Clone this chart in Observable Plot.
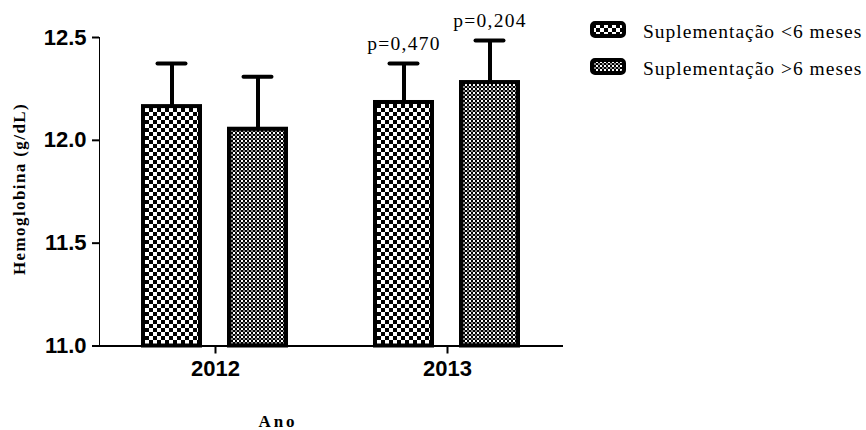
<!DOCTYPE html>
<html><head><meta charset="utf-8">
<script src="https://cdn.jsdelivr.net/npm/d3@7"></script>
<script src="https://cdn.jsdelivr.net/npm/@observablehq/plot@0.6"></script>
<style>
body{margin:0;background:#fff;}
#wrap{position:relative;width:866px;height:430px;}
#overlay{position:absolute;left:0;top:0;}
g[aria-label="y-axis tick label"], g[aria-label="fx-axis tick label"]{font:bold 22px "Liberation Sans",Arial,sans-serif;fill:#000;}
g[aria-label^="y-axis"], g[aria-label^="fx-axis"]{stroke-width:2px;}
g[aria-label="text"]{letter-spacing:1.3px;}
.serif{font-family:"Liberation Serif","Times New Roman",serif;fill:#000;}
</style></head><body>
<svg width="0" height="0" style="position:absolute">
<defs>
<pattern id="pat-lt6" width="8" height="8" patternUnits="userSpaceOnUse">
<rect width="8" height="8" fill="#fff"/><rect width="4" height="4" fill="#000"/><rect x="4" y="4" width="4" height="4" fill="#000"/>
</pattern>
<pattern id="pat-gt6" width="4" height="4" patternUnits="userSpaceOnUse">
<rect width="4" height="4" fill="#000"/><rect width="2" height="2" fill="#fff"/><rect x="2" y="2" width="2" height="2" fill="#888"/>
</pattern>
</defs></svg>
<div id="wrap"></div>
<script>
const years = ["2012", "2013"];
const seriesNames = ["Suplementação <6 meses", "Suplementação >6 meses"];
const meanLt6 = [12.164, 12.184];
const meanGt6 = [12.054, 12.281];
const errLt6 = [0.21, 0.19];
const errGt6 = [0.255, 0.205];
const pLt6 = [null, "p=0,470"];
const pGt6 = [null, "p=0,204"];
const yDomain = [11.0, 12.5];
const yTicks = [11.0, 11.5, 12.0, 12.5];
const yTitle = "Hemoglobina (g/dL)";
const xTitle = "Ano";
const patterns = ["url(#pat-lt6)", "url(#pat-gt6)"];

const rows = [];
years.forEach((yr, i) => {
  rows.push({year: yr, series: seriesNames[0], mean: meanLt6[i], err: errLt6[i], p: pLt6[i]});
  rows.push({year: yr, series: seriesNames[1], mean: meanGt6[i], err: errGt6[i], p: pGt6[i]});
});

const chart = Plot.plot({
  width: 866, height: 430,
  marginLeft: 98, marginRight: 303, marginTop: 37, marginBottom: 84.5,
  facet: {data: rows, x: "year"},
  fx: {domain: years, paddingInner: 0, paddingOuter: 0, tickSize: 8, tickPadding: 6, label: null},
  x: {domain: seriesNames, paddingInner: 1/3, paddingOuter: 0.503, axis: null},
  y: {domain: yDomain, ticks: yTicks, tickFormat: d3.format(".1f"), tickSize: 7, tickPadding: 6, line: true, label: null},
  color: {domain: seriesNames, range: patterns},
  marks: [
    Plot.barY(rows, {x: "series", y1: yDomain[0], y2: "mean", fill: "series", stroke: "#000", strokeWidth: 4}),
    Plot.ruleX(rows, {x: "series", y1: "mean", y2: d => d.mean + d.err, stroke: "#000", strokeWidth: 4}),
    Plot.tickY(rows, {x: "series", y: d => d.mean + d.err, stroke: "#000", strokeWidth: 4, strokeLinecap: "round", insetLeft: 14.5, insetRight: 14.5}),
    Plot.ruleY([yDomain[0]], {stroke: "#000", strokeWidth: 2}),
    Plot.text(rows, {filter: d => d.p, x: "series", y: d => d.mean + d.err, text: "p", lineAnchor: "bottom", dy: -13,
      fill: "#000", fontSize: 19.5, fontFamily: "Liberation Serif, Times New Roman, serif"})
  ]
});
const wrap = document.getElementById("wrap");
wrap.appendChild(chart);

// overlay: axis titles and legend
const ov = d3.select(wrap).append("svg").attr("id", "overlay").attr("width", 866).attr("height", 430);
ov.append("text").attr("class", "serif").attr("transform", "translate(25,189) rotate(-90)")
  .attr("text-anchor", "middle").style("font-weight", "bold").style("font-size", "17px").style("letter-spacing", "1.4px").text(yTitle);
ov.append("text").attr("class", "serif").attr("x", 278).attr("y", 427)
  .attr("text-anchor", "middle").style("font-weight", "bold").style("font-size", "17px").style("letter-spacing", "3px").text(xTitle);
const leg = ov.selectAll("g.leg").data(seriesNames).join("g").attr("class", "leg")
  .attr("transform", (d, i) => `translate(0,${i * 37})`);
leg.append("rect").attr("x", 592).attr("y", 23).attr("width", 32).attr("height", 13).attr("rx", 3)
  .attr("fill", (d, i) => patterns[i]).attr("stroke", "#000").attr("stroke-width", 4);
leg.append("text").attr("class", "serif").attr("x", 643).attr("y", 37.5)
  .style("font-size", "19.5px").style("letter-spacing", "1px").text(d => d);
</script>
</body></html>
